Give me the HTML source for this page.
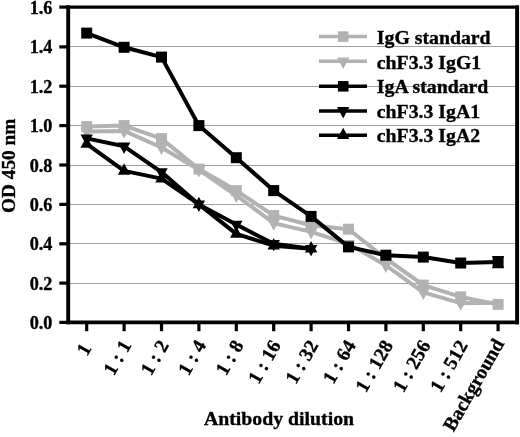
<!DOCTYPE html>
<html><head><meta charset="utf-8"><title>chart</title><style>html,body{margin:0;padding:0;background:#fff}text{stroke:#000;stroke-width:0.35px;fill:#000}</style></head><body>
<svg width="520" height="437" viewBox="0 0 520 437" style="display:block;font-family:'Liberation Serif',serif;font-weight:bold">
<rect width="520" height="437" fill="#fff"/>
<line x1="68.2" x2="517.1" y1="283.5" y2="283.5" stroke="#8e8e8e" stroke-width="0.85"/>
<line x1="68.2" x2="517.1" y1="243.5" y2="243.5" stroke="#8e8e8e" stroke-width="0.85"/>
<line x1="68.2" x2="517.1" y1="204.5" y2="204.5" stroke="#8e8e8e" stroke-width="0.85"/>
<line x1="68.2" x2="517.1" y1="165.5" y2="165.5" stroke="#8e8e8e" stroke-width="0.85"/>
<line x1="68.2" x2="517.1" y1="125.5" y2="125.5" stroke="#8e8e8e" stroke-width="0.85"/>
<line x1="68.2" x2="517.1" y1="86.5" y2="86.5" stroke="#8e8e8e" stroke-width="0.85"/>
<line x1="68.2" x2="517.1" y1="46.5" y2="46.5" stroke="#8e8e8e" stroke-width="0.85"/>
<polyline fill="none" stroke="#b2b2b2" stroke-width="4" stroke-linejoin="round" points="86.7,126.6 124.1,125.6 161.5,138.6 198.9,169.1 236.3,190.6 273.7,215.6 311.1,225.2 348.5,229.2 385.9,258.5 423.3,285.1 460.7,296.9 498.1,304.4"/>
<rect x="81.2" y="121.1" width="11.0" height="11.0" fill="#b2b2b2"/>
<rect x="118.6" y="120.1" width="11.0" height="11.0" fill="#b2b2b2"/>
<rect x="156.0" y="133.1" width="11.0" height="11.0" fill="#b2b2b2"/>
<rect x="193.4" y="163.6" width="11.0" height="11.0" fill="#b2b2b2"/>
<rect x="230.8" y="185.1" width="11.0" height="11.0" fill="#b2b2b2"/>
<rect x="268.2" y="210.1" width="11.0" height="11.0" fill="#b2b2b2"/>
<rect x="305.6" y="219.7" width="11.0" height="11.0" fill="#b2b2b2"/>
<rect x="343.0" y="223.7" width="11.0" height="11.0" fill="#b2b2b2"/>
<rect x="380.4" y="253.0" width="11.0" height="11.0" fill="#b2b2b2"/>
<rect x="417.8" y="279.6" width="11.0" height="11.0" fill="#b2b2b2"/>
<rect x="455.2" y="291.4" width="11.0" height="11.0" fill="#b2b2b2"/>
<rect x="492.6" y="298.9" width="11.0" height="11.0" fill="#b2b2b2"/>
<polyline fill="none" stroke="#b2b2b2" stroke-width="4" stroke-linejoin="round" points="86.7,131.5 124.1,130.9 161.5,147.5 198.9,169.9 236.3,195.5 273.7,223.1 311.1,231.9 348.5,243.8 385.9,265.4 423.3,292.4 460.7,303.2 498.1,302.8"/>
<polygon points="80.5,127.7 92.9,127.7 86.7,139.1" fill="#b2b2b2"/>
<polygon points="117.9,127.1 130.3,127.1 124.1,138.5" fill="#b2b2b2"/>
<polygon points="155.3,143.7 167.7,143.7 161.5,155.1" fill="#b2b2b2"/>
<polygon points="192.7,166.1 205.1,166.1 198.9,177.5" fill="#b2b2b2"/>
<polygon points="230.1,191.7 242.5,191.7 236.3,203.1" fill="#b2b2b2"/>
<polygon points="267.5,219.3 279.9,219.3 273.7,230.7" fill="#b2b2b2"/>
<polygon points="304.9,228.1 317.3,228.1 311.1,239.5" fill="#b2b2b2"/>
<polygon points="342.3,239.9 354.7,239.9 348.5,251.3" fill="#b2b2b2"/>
<polygon points="379.7,261.6 392.1,261.6 385.9,273.0" fill="#b2b2b2"/>
<polygon points="417.1,288.6 429.5,288.6 423.3,300.0" fill="#b2b2b2"/>
<polygon points="454.5,299.4 466.9,299.4 460.7,310.8" fill="#b2b2b2"/>
<polyline fill="none" stroke="#000" stroke-width="4" stroke-linejoin="round" points="86.7,33.1 124.1,47.3 161.5,57.1 198.9,125.6 236.3,157.7 273.7,190.6 311.1,216.4 348.5,246.9 385.9,255.2 423.3,257.1 460.7,263.0 498.1,262.1"/>
<rect x="81.2" y="27.6" width="11.0" height="11.0" fill="#000"/>
<rect x="118.6" y="41.8" width="11.0" height="11.0" fill="#000"/>
<rect x="156.0" y="51.6" width="11.0" height="11.0" fill="#000"/>
<rect x="193.4" y="120.1" width="11.0" height="11.0" fill="#000"/>
<rect x="230.8" y="152.2" width="11.0" height="11.0" fill="#000"/>
<rect x="268.2" y="185.1" width="11.0" height="11.0" fill="#000"/>
<rect x="305.6" y="210.9" width="11.0" height="11.0" fill="#000"/>
<rect x="343.0" y="241.4" width="11.0" height="11.0" fill="#000"/>
<rect x="380.4" y="249.7" width="11.0" height="11.0" fill="#000"/>
<rect x="417.8" y="251.6" width="11.0" height="11.0" fill="#000"/>
<rect x="455.2" y="257.5" width="11.0" height="11.0" fill="#000"/>
<rect x="492.6" y="256.6" width="11.0" height="11.0" fill="#000"/>
<polyline fill="none" stroke="#000" stroke-width="4" stroke-linejoin="round" points="86.7,138.4 124.1,146.3 161.5,172.1 198.9,204.4 236.3,224.5 273.7,243.8 311.1,248.7"/>
<polygon points="80.5,134.6 92.9,134.6 86.7,146.0" fill="#000"/>
<polygon points="117.9,142.5 130.3,142.5 124.1,153.9" fill="#000"/>
<polygon points="155.3,168.3 167.7,168.3 161.5,179.7" fill="#000"/>
<polygon points="192.7,200.6 205.1,200.6 198.9,212.0" fill="#000"/>
<polygon points="230.1,220.7 242.5,220.7 236.3,232.1" fill="#000"/>
<polygon points="267.5,239.9 279.9,239.9 273.7,251.3" fill="#000"/>
<polygon points="304.9,244.9 317.3,244.9 311.1,256.3" fill="#000"/>
<polygon points="491.9,255.9 504.3,255.9 498.1,267.3" fill="#000"/>
<polyline fill="none" stroke="#000" stroke-width="4" stroke-linejoin="round" points="86.7,143.9 124.1,170.9 161.5,178.6 198.9,204.4 236.3,233.9 273.7,245.7 311.1,248.7"/>
<polygon points="80.5,147.7 92.9,147.7 86.7,136.3" fill="#000"/>
<polygon points="117.9,174.7 130.3,174.7 124.1,163.3" fill="#000"/>
<polygon points="155.3,182.4 167.7,182.4 161.5,171.0" fill="#000"/>
<polygon points="192.7,208.2 205.1,208.2 198.9,196.8" fill="#000"/>
<polygon points="230.1,237.7 242.5,237.7 236.3,226.3" fill="#000"/>
<polygon points="267.5,249.5 279.9,249.5 273.7,238.1" fill="#000"/>
<polygon points="304.9,252.5 317.3,252.5 311.1,241.1" fill="#000"/>
<polygon points="491.9,268.2 504.3,268.2 498.1,256.8" fill="#000"/>
<line x1="66.25" x2="519.05" y1="7.1" y2="7.1" stroke="#000" stroke-width="3.3"/>
<line x1="66.25" x2="519.05" y1="322.35" y2="322.35" stroke="#000" stroke-width="3.8"/>
<line x1="68.2" x2="68.2" y1="5.45" y2="324.25" stroke="#000" stroke-width="3.9"/>
<line x1="517.1" x2="517.1" y1="5.45" y2="324.25" stroke="#000" stroke-width="3.9"/>
<line x1="59.3" x2="68.2" y1="322.4" y2="322.4" stroke="#000" stroke-width="3.2"/>
<text x="52.4" y="328.9" font-size="18.2" text-anchor="end">0.0</text>
<line x1="59.3" x2="68.2" y1="283.1" y2="283.1" stroke="#000" stroke-width="3.2"/>
<text x="52.4" y="289.6" font-size="18.2" text-anchor="end">0.2</text>
<line x1="59.3" x2="68.2" y1="243.8" y2="243.8" stroke="#000" stroke-width="3.2"/>
<text x="52.4" y="250.2" font-size="18.2" text-anchor="end">0.4</text>
<line x1="59.3" x2="68.2" y1="204.4" y2="204.4" stroke="#000" stroke-width="3.2"/>
<text x="52.4" y="210.9" font-size="18.2" text-anchor="end">0.6</text>
<line x1="59.3" x2="68.2" y1="165.0" y2="165.0" stroke="#000" stroke-width="3.2"/>
<text x="52.4" y="171.5" font-size="18.2" text-anchor="end">0.8</text>
<line x1="59.3" x2="68.2" y1="125.6" y2="125.6" stroke="#000" stroke-width="3.2"/>
<text x="52.4" y="132.1" font-size="18.2" text-anchor="end">1.0</text>
<line x1="59.3" x2="68.2" y1="86.2" y2="86.2" stroke="#000" stroke-width="3.2"/>
<text x="52.4" y="92.7" font-size="18.2" text-anchor="end">1.2</text>
<line x1="59.3" x2="68.2" y1="46.9" y2="46.9" stroke="#000" stroke-width="3.2"/>
<text x="52.4" y="53.4" font-size="18.2" text-anchor="end">1.4</text>
<line x1="59.3" x2="68.2" y1="7.1" y2="7.1" stroke="#000" stroke-width="3.2"/>
<text x="52.4" y="13.6" font-size="18.2" text-anchor="end">1.6</text>
<line x1="86.7" x2="86.7" y1="322.5" y2="331.2" stroke="#000" stroke-width="3.2"/>
<text transform="translate(86.8,345.3) rotate(-60)" font-size="19.5" word-spacing="0.3" text-anchor="end" y="6">1</text>
<line x1="124.1" x2="124.1" y1="322.5" y2="331.2" stroke="#000" stroke-width="3.2"/>
<text transform="translate(126.7,342.1) rotate(-60)" font-size="19.5" word-spacing="0.3" text-anchor="end" y="6">1 : 1</text>
<line x1="161.5" x2="161.5" y1="322.5" y2="331.2" stroke="#000" stroke-width="3.2"/>
<text transform="translate(164.1,342.1) rotate(-60)" font-size="19.5" word-spacing="0.3" text-anchor="end" y="6">1 : 2</text>
<line x1="198.9" x2="198.9" y1="322.5" y2="331.2" stroke="#000" stroke-width="3.2"/>
<text transform="translate(201.5,342.1) rotate(-60)" font-size="19.5" word-spacing="0.3" text-anchor="end" y="6">1 : 4</text>
<line x1="236.3" x2="236.3" y1="322.5" y2="331.2" stroke="#000" stroke-width="3.2"/>
<text transform="translate(238.9,342.1) rotate(-60)" font-size="19.5" word-spacing="0.3" text-anchor="end" y="6">1 : 8</text>
<line x1="273.7" x2="273.7" y1="322.5" y2="331.2" stroke="#000" stroke-width="3.2"/>
<text transform="translate(276.3,342.1) rotate(-60)" font-size="19.5" word-spacing="0.3" text-anchor="end" y="6">1 : 16</text>
<line x1="311.1" x2="311.1" y1="322.5" y2="331.2" stroke="#000" stroke-width="3.2"/>
<text transform="translate(313.7,342.1) rotate(-60)" font-size="19.5" word-spacing="0.3" text-anchor="end" y="6">1 : 32</text>
<line x1="348.5" x2="348.5" y1="322.5" y2="331.2" stroke="#000" stroke-width="3.2"/>
<text transform="translate(351.1,342.1) rotate(-60)" font-size="19.5" word-spacing="0.3" text-anchor="end" y="6">1 : 64</text>
<line x1="385.9" x2="385.9" y1="322.5" y2="331.2" stroke="#000" stroke-width="3.2"/>
<text transform="translate(388.5,342.1) rotate(-60)" font-size="19.5" word-spacing="0.3" text-anchor="end" y="6">1 : 128</text>
<line x1="423.3" x2="423.3" y1="322.5" y2="331.2" stroke="#000" stroke-width="3.2"/>
<text transform="translate(425.9,342.1) rotate(-60)" font-size="19.5" word-spacing="0.3" text-anchor="end" y="6">1 : 256</text>
<line x1="460.7" x2="460.7" y1="322.5" y2="331.2" stroke="#000" stroke-width="3.2"/>
<text transform="translate(463.3,342.1) rotate(-60)" font-size="19.5" word-spacing="0.3" text-anchor="end" y="6">1 : 512</text>
<line x1="498.1" x2="498.1" y1="322.5" y2="331.2" stroke="#000" stroke-width="3.2"/>
<text transform="translate(499.5,340.6) rotate(-60)" font-size="19.5" word-spacing="0.3" text-anchor="end" y="6">Background</text>
<text transform="translate(15.2,165.8) rotate(-90)" font-size="19.3" text-anchor="middle">OD 450 nm</text>
<text x="279" y="424.6" font-size="19.8" text-anchor="middle">Antibody dilution</text>
<line x1="319" x2="367" y1="36.6" y2="36.6" stroke="#b2b2b2" stroke-width="3.5"/>
<rect x="337.9" y="31.3" width="10.6" height="10.6" fill="#b2b2b2"/>
<text x="376.8" y="44.4" font-size="19.8">IgG standard</text>
<line x1="319" x2="367" y1="61.3" y2="61.3" stroke="#b2b2b2" stroke-width="3.5"/>
<polygon points="337.0,57.5 349.4,57.5 343.2,68.9" fill="#b2b2b2"/>
<text x="376.8" y="68.8" font-size="19.8">chF3.3 IgG1</text>
<line x1="319" x2="367" y1="86.3" y2="86.3" stroke="#000" stroke-width="3.5"/>
<rect x="337.9" y="81.0" width="10.6" height="10.6" fill="#000"/>
<text x="376.8" y="93.4" font-size="19.8">IgA standard</text>
<line x1="319" x2="367" y1="110.9" y2="110.9" stroke="#000" stroke-width="3.5"/>
<polygon points="337.0,107.1 349.4,107.1 343.2,118.5" fill="#000"/>
<text x="376.8" y="117.8" font-size="19.8">chF3.3 IgA1</text>
<line x1="319" x2="367" y1="135.3" y2="135.3" stroke="#000" stroke-width="3.5"/>
<polygon points="337.0,139.1 349.4,139.1 343.2,127.7" fill="#000"/>
<text x="376.8" y="142.3" font-size="19.8">chF3.3 IgA2</text>
</svg>
</body></html>
